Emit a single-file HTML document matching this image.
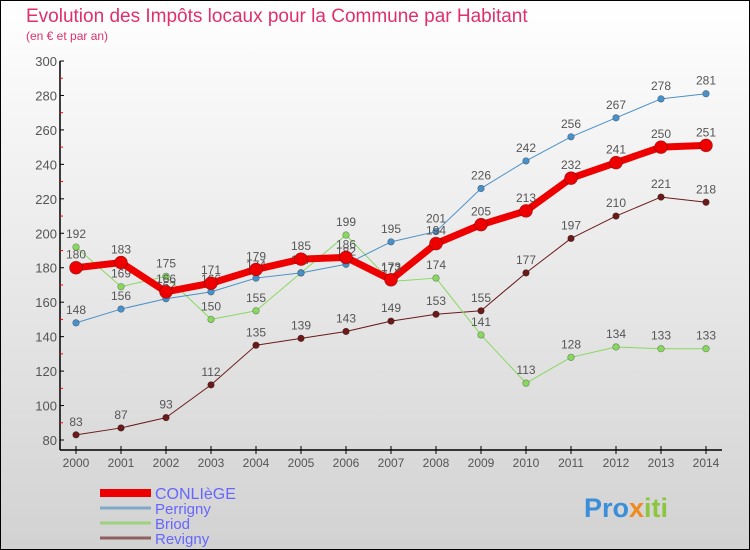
<!DOCTYPE html>
<html><head><meta charset="utf-8"><style>
html,body{margin:0;padding:0}
body{width:750px;height:550px;overflow:hidden;font-family:"Liberation Sans",sans-serif}
#wrap{position:absolute;left:0;top:0;width:748px;height:548px;border:1px solid #000;background:linear-gradient(#ffffff,#d2d2d2)}
</style></head><body>
<div id="wrap"></div>
<svg id="chart" width="750" height="550" style="position:absolute;left:0;top:0">
<text x="26" y="22" font-size="19" fill="#e0306a">Evolution des Impôts locaux pour la Commune par Habitant</text>
<text x="26" y="40" font-size="12" fill="#e0306a">(en € et par an)</text>
<g id="axes"></g><g id="series"></g><g id="legend"></g>
<text x="584" y="517" font-size="27" font-weight="bold" fill="#3a8fd8">Pro<tspan fill="#f08a1c">x</tspan><tspan fill="#8cc63f">iti</tspan></text>
</svg>
<script>
const years=[2000,2001,2002,2003,2004,2005,2006,2007,2008,2009,2010,2011,2012,2013,2014];
const yTicks=[80,100,120,140,160,180,200,220,240,260,280,300];
const conliege=[180,183,166,171,179,185,186,173,194,205,213,232,241,250,251];
const perrigny=[148,156,162,166,174,177,182,195,201,226,242,256,267,278,281];
const briod=[192,169,175,150,155,177,199,172,174,141,113,128,134,133,133];
const revigny=[83,87,93,112,135,139,143,149,153,155,177,197,210,221,218];
const NS="http://www.w3.org/2000/svg";
const X=i=>76+i*45;
const Y=v=>440-(v-80)*(379/220);
function mk(t,a,p){const e=document.createElementNS(NS,t);for(const k in a)e.setAttribute(k,a[k]);p.appendChild(e);return e;}
const ax=document.getElementById('axes');
let yl=mk('line',{x1:60,y1:Y(300),x2:60,y2:450,stroke:'#000','stroke-width':1.5},ax);


let xl=mk('line',{x1:60,y1:450,x2:722,y2:450,stroke:'#000','stroke-width':1.5},ax);


yTicks.forEach(v=>{
  mk('line',{x1:60,y1:Y(v),x2:64,y2:Y(v),stroke:'#000'},ax);
  if(v<300) mk('line',{x1:60,y1:Y(v+10),x2:63,y2:Y(v+10),stroke:'#f00'},ax);
  const t=mk('text',{x:57,y:Y(v)+5,'text-anchor':'end','font-size':13,fill:'#555'},ax);
  t.textContent=v;
  
  
});
years.forEach((yr,i)=>{
  mk('line',{x1:X(i),y1:446,x2:X(i),y2:454,stroke:'#000'},ax);
  const t=mk('text',{x:X(i),y:467,'text-anchor':'middle','font-size':12,fill:'#555'},ax);
  t.textContent=yr;
  
  
});
const sg=document.getElementById('series');
function draw(data,color,lw,r,name){
  const g=mk('g',{},sg);
  
  
  mk('polyline',{points:data.map((v,i)=>X(i)+','+Y(v)).join(' '),fill:'none',stroke:color,'stroke-width':lw,'stroke-linejoin':'round'},g);
  data.forEach((v,i)=>{
    const c=mk('circle',{cx:X(i),cy:Y(v),r:r,fill:color,stroke:'rgba(0,0,0,0.4)','stroke-width':0.6},g);
    
    
    const t=mk('text',{x:X(i),y:Y(v)-9,'text-anchor':'middle','font-size':12,fill:'#555'},g);
    t.textContent=v;
    
    
  });
}
draw(revigny,'#6b1a1a',1,3.3,'revigny');
draw(briod,'#88d860',1,3.3,'briod');
draw(perrigny,'#4a90c8',1,3.3,'perrigny');
draw(conliege,'#ee0000',7,6.5,'conliege');
const lg=document.getElementById('legend');
const names=['CONLIèGE','Perrigny','Briod','Revigny'];
const cols=['#ee0000','#80a8c8','#a0d080','#906060'];
const widths=[8,3,3,3];
names.forEach((n,i)=>{
  const y=493+i*15;
  const l=mk('line',{x1:100,y1:y,x2:151,y2:y,stroke:cols[i],'stroke-width':widths[i]},lg);
  
  
  const t=mk('text',{x:155,y:y+6,'font-size':i==0?16:15,fill:'#6666ff'},lg);
  t.textContent=n;
  
  
});
</script>
</body></html>
